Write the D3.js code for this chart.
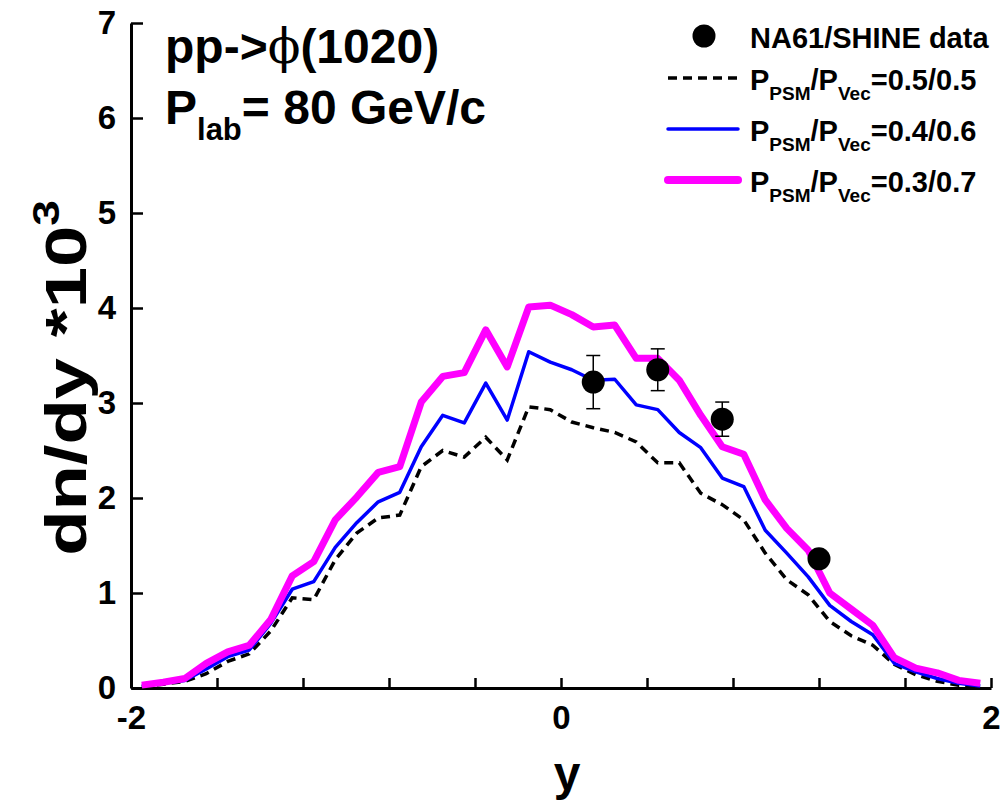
<!DOCTYPE html>
<html>
<head>
<meta charset="utf-8">
<script src="https://cdn.jsdelivr.net/npm/d3@7"></script>
<style>
  body { margin: 0; background: #fff; }
  text { font-family: "Liberation Sans", Arial, sans-serif; font-weight: bold; fill: #000; }
</style>
</head>
<body>
<div id="chart"></div>
<script>
// rapidity bin centres
const rapidity = [-1.95, -1.85, -1.75, -1.65, -1.55, -1.45, -1.35, -1.25, -1.15, -1.05,
                  -0.95, -0.85, -0.75, -0.65, -0.55, -0.45, -0.35, -0.25, -0.15, -0.05,
                   0.05, 0.15, 0.25, 0.35, 0.45, 0.55, 0.65, 0.75, 0.85, 0.95,
                   1.05, 1.15, 1.25, 1.35, 1.45, 1.55, 1.65, 1.75, 1.85, 1.95];

// P_PSM/P_Vec = 0.5/0.5
const model55 = [0.01, 0.04, 0.07, 0.15, 0.28, 0.36, 0.60, 0.95, 0.93, 1.35,
                 1.63, 1.79, 1.82, 2.33, 2.50, 2.43, 2.64, 2.40, 2.96, 2.93,
                 2.80, 2.74, 2.69, 2.59, 2.37, 2.37, 2.05, 1.93, 1.77, 1.42,
                 1.14, 0.98, 0.70, 0.55, 0.45, 0.25, 0.14, 0.07, 0.03, 0.01];
// P_PSM/P_Vec = 0.4/0.6
const model46 = [0.02, 0.05, 0.08, 0.20, 0.33, 0.40, 0.68, 1.04, 1.12, 1.48,
                 1.74, 1.96, 2.06, 2.54, 2.87, 2.79, 3.21, 2.82, 3.54, 3.43,
                 3.35, 3.24, 3.25, 2.98, 2.93, 2.69, 2.53, 2.21, 2.12, 1.66,
                 1.42, 1.17, 0.87, 0.70, 0.56, 0.26, 0.17, 0.10, 0.05, 0.02];
// P_PSM/P_Vec = 0.3/0.7
const model37 = [0.03, 0.06, 0.10, 0.26, 0.38, 0.45, 0.72, 1.18, 1.33, 1.77,
                 2.01, 2.27, 2.33, 3.01, 3.28, 3.32, 3.77, 3.38, 4.01, 4.03,
                 3.93, 3.80, 3.82, 3.47, 3.47, 3.24, 2.87, 2.54, 2.46, 1.98,
                 1.68, 1.45, 1.00, 0.83, 0.66, 0.32, 0.21, 0.16, 0.08, 0.05];

// NA61/SHINE measurement
const dataY = [0.15, 0.45, 0.75, 1.2];
const dataVal = [3.22, 3.35, 2.83, 1.36];
const dataErr = [0.28, 0.22, 0.18, 0.05];

const xTicks = [-2, -1.6, -1.2, -0.8, -0.4, 0, 0.4, 0.8, 1.2, 1.6, 2];
const xLabels = [-2, 0, 2];
const yTicks = [0, 1, 2, 3, 4, 5, 6, 7];

const width = 1002, height = 801;

let svg = d3.select("#chart").append("svg")
  .attr("width", width)
  .attr("height", height)
  .style("background", "#fff");

let x = d3.scaleLinear().domain([-2, 2]).range([131, 991]);
let y = d3.scaleLinear().domain([0, 7]).range([688, 23]);

// axes (ticks point inward)
let xAxis = d3.axisBottom(x)
  .tickValues(xTicks)
  .tickSizeInner(-10)
  .tickSizeOuter(0)
  .tickPadding(18)
  .tickFormat(d => xLabels.includes(d) ? String(d) : "");

let yAxis = d3.axisLeft(y)
  .tickValues(yTicks)
  .tickSizeInner(-12)
  .tickSizeOuter(0)
  .tickPadding(15)
  .tickFormat(d => String(d));

let gx = svg.append("g").attr("transform", "translate(0,688)").call(xAxis);
let gy = svg.append("g").attr("transform", "translate(131,0)").call(yAxis);

[gx, gy].forEach(g => {
  g.select(".domain").attr("stroke", "#000").attr("stroke-width", 3);
  g.selectAll(".tick line").attr("stroke", "#000").attr("stroke-width", 2.5);
  g.selectAll(".tick text")
    .style("font-size", "33px")
    .style("font-family", '"Liberation Sans", Arial, sans-serif')
    .style("font-weight", "bold")
    .attr("fill", "#000");
});

// model curves
let line = d3.line()
  .x((d, i) => x(rapidity[i]))
  .y(d => y(d));

svg.append("path").datum(model55)
  .attr("fill", "none").attr("stroke", "#000")
  .attr("stroke-width", 3.5).attr("stroke-dasharray", "9,6")
  .attr("d", line);

svg.append("path").datum(model46)
  .attr("fill", "none").attr("stroke", "#0000ff")
  .attr("stroke-width", 3.5).attr("stroke-linejoin", "round")
  .attr("d", line);

svg.append("path").datum(model37)
  .attr("fill", "none").attr("stroke", "#ff00ff")
  .attr("stroke-width", 7).attr("stroke-linejoin", "round")
  .attr("d", line);

// data with error bars
let pts = svg.append("g");
dataY.forEach((d, i) => {
  let cx = x(d);
  let top = y(dataVal[i] + dataErr[i]), bot = y(dataVal[i] - dataErr[i]);
  pts.append("line").attr("x1", cx).attr("x2", cx).attr("y1", top).attr("y2", bot)
    .attr("stroke", "#000").attr("stroke-width", 1.5);
  [top, bot].forEach(v => {
    pts.append("line").attr("x1", cx - 7).attr("x2", cx + 7).attr("y1", v).attr("y2", v)
      .attr("stroke", "#000").attr("stroke-width", 1.5);
  });
  pts.append("circle").attr("cx", cx).attr("cy", y(dataVal[i])).attr("r", 11.5).attr("fill", "#000");
});

// axis titles
svg.append("text").attr("x", 567).attr("y", 790)
  .attr("text-anchor", "middle").style("font-size", "48px").text("y");

// the y title is stretched along its length, as in the original
let yt = svg.append("text")
  .attr("transform", "translate(86,378) rotate(-90) scale(1.28,1)")
  .attr("text-anchor", "middle").style("font-size", "58px");
yt.append("tspan").text("dn/dy *10");
yt.append("tspan").attr("dy", -27).style("font-size", "36px").text("3");

// reaction labels
let t1 = svg.append("text").attr("x", 165).attr("y", 63).style("font-size", "48px");
t1.append("tspan").text("pp->");
t1.append("tspan").style("font-weight", "normal").style("font-family", '"DejaVu Serif", serif').text("\u03D5");
t1.append("tspan").text("(1020)");

let t2 = svg.append("text").attr("x", 165).attr("y", 124).style("font-size", "48px");
t2.append("tspan").text("P");
t2.append("tspan").attr("dy", 16).style("font-size", "31px").text("lab");
t2.append("tspan").attr("dy", -16).text("= 80 GeV/c");

// legend
let legend = svg.append("g");
legend.append("circle").attr("cx", 704).attr("cy", 36).attr("r", 11.5).attr("fill", "#000");
legend.append("text").attr("x", 750).attr("y", 48).style("font-size", "29px").text("NA61/SHINE data");

const legendRows = [
  { label: "0.5/0.5", stroke: "#000", width: 3.5, dash: "9,6" },
  { label: "0.4/0.6", stroke: "#0000ff", width: 3.5, dash: null },
  { label: "0.3/0.7", stroke: "#ff00ff", width: 8, dash: null }
];
legendRows.forEach((r, i) => {
  let ly = 78 + i * 51;
  legend.append("line").attr("x1", 668).attr("x2", 738).attr("y1", ly).attr("y2", ly)
    .attr("stroke", r.stroke).attr("stroke-width", r.width)
    .attr("stroke-dasharray", r.dash).attr("stroke-linecap", r.dash ? null : "round");
  let t = legend.append("text").attr("x", 750).attr("y", ly + 12).style("font-size", "29px");
  t.append("tspan").text("P");
  t.append("tspan").attr("dy", 10).style("font-size", "19px").text("PSM");
  t.append("tspan").attr("dy", -10).text("/P");
  t.append("tspan").attr("dy", 10).style("font-size", "19px").text("Vec");
  t.append("tspan").attr("dy", -10).text("=" + r.label);
});
</script>
</body>
</html>
